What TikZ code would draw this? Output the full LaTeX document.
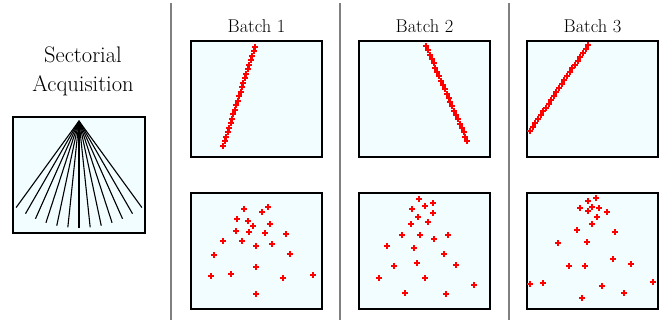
\documentclass[tikz,border=0pt]{standalone}
\usetikzlibrary{calc}
\definecolor{panelfill}{RGB}{242,253,255}
\definecolor{sepgray}{RGB}{128,128,128}
\definecolor{mkred}{RGB}{255,0,0}
\begin{document}
\begin{tikzpicture}[x=1pt,y=-1pt,
  panel/.style={draw=black,line width=1.5pt,fill=panelfill,minimum width=131pt,minimum height=116pt,inner sep=0pt,outer sep=0pt,anchor=north west},
  sepline/.style={draw=sepgray,line width=1.2pt},
  fanline/.style={draw=black,line width=1.1pt},
  mk/.style={fill=mkred,draw=none},
  bigtitle/.style={font=\fontsize{22.5}{28}\selectfont,align=center,inner sep=0pt},
  batchtitle/.style={font=\fontsize{18.5}{22}\selectfont,inner sep=0pt,anchor=base}
]
\useasboundingbox (0,0) rectangle (664,320);
\newcommand{\plusmk}[2]{%
  \pgfmathsetmacro\mkx{round(#1)}\pgfmathsetmacro\mky{round(#2)}%
  \fill[mk] (\mkx-3,\mky-1) rectangle (\mkx+3,\mky+1);
  \fill[mk] (\mkx-1,\mky-3) rectangle (\mkx+1,\mky+3);}

% separators
\coordinate (s1t) at (171,3); \coordinate (s1b) at (171,320);
\coordinate (s2t) at (340,3); \coordinate (s2b) at (340,320);
\coordinate (s3t) at (509,3); \coordinate (s3b) at (509,320);
\draw[sepline] (s1t) -- (s1b);
\draw[sepline] (s2t) -- (s2b);
\draw[sepline] (s3t) -- (s3b);

% left part
\node[bigtitle,anchor=base] (t0a) at (83,63) {Sectorial};
\node[bigtitle,anchor=base] (t0b) at (83,91.5) {Acquisition};
\node[panel,minimum width=132pt] (b0) at (13,117) {};
\coordinate (apex) at (79,121);
\foreach \a in {-36,-30,...,36}{
  \draw[fanline] (apex) -- ($(apex)+({107*sin(\a)},{107*cos(\a)})$);
}

% batch titles
\node[batchtitle] (t1) at (256.5,32.5) {Batch 1};
\node[batchtitle] (t2) at (424.5,32.5) {Batch 2};
\node[batchtitle] (t3) at (592.5,32.5) {Batch 3};

% panels
\node[panel] (b1t) at (191,41) {};
\node[panel] (b2t) at (359,41) {};
\node[panel] (b3t) at (527,41) {};
\node[panel] (b1b) at (191,193) {};
\node[panel] (b2b) at (359,193) {};
\node[panel] (b3b) at (527,193) {};

% line samples
\foreach \ax/\ay/\bx/\by in {223.3/145.7/255/46.7, 426/46/467.3/141, 530/131/588.3/45}{
  \foreach \i in {0,...,22}{
    \plusmk{\ax+\i/22*(\bx-\ax)}{\ay+\i/22*(\by-\ay)}
  }
}

% scattered samples
\foreach \x/\y in {
 244.3/209.3, 268/207.3, 262.3/212.3, 237.3/219.3, 248.3/221, 269.7/223.7,
 253.3/226, 235.7/231.3, 249.3/232.3, 265/233.3, 285.7/234.3, 223/241,
 242.3/240.7, 256.3/246, 272.3/244.3, 214/255.3, 290/254, 256.3/266.7,
 211.3/276.3, 231.3/274.3, 283.3/278, 313/275.3, 256.3/294,
 419.3/198.7, 433/202.7, 424.7/206.3, 411.7/209, 433.3/213, 417.7/217.3,
 427.7/222.3, 411.3/224.3, 402/235, 420.3/235.3, 434/239, 447.7/234.7,
 387.3/246.3, 413.7/248.3, 443.7/253.7, 393.7/265.7, 417.3/263.3, 455.7/265,
 378.7/278.3, 424.7/278, 474/284.7, 404.7/293.3, 445.7/294.3,
 596/197.7, 587.7/201, 592.3/206.7, 580.3/208.3, 587.7/210.7, 599/208.3,
 607.3/212.3, 597/217.3, 591.7/223.7, 577/230, 614.7/232.3, 557.7/243.3,
 587.3/242.3, 613/258.7, 569.3/266.3, 585.3/265.7, 631.3/264.3, 530.3/284.3,
 543/283.3, 602.3/285.7, 653.3/282, 624/293.3, 581.7/298}{
  \plusmk{\x}{\y}
}
\end{tikzpicture}
\end{document}
